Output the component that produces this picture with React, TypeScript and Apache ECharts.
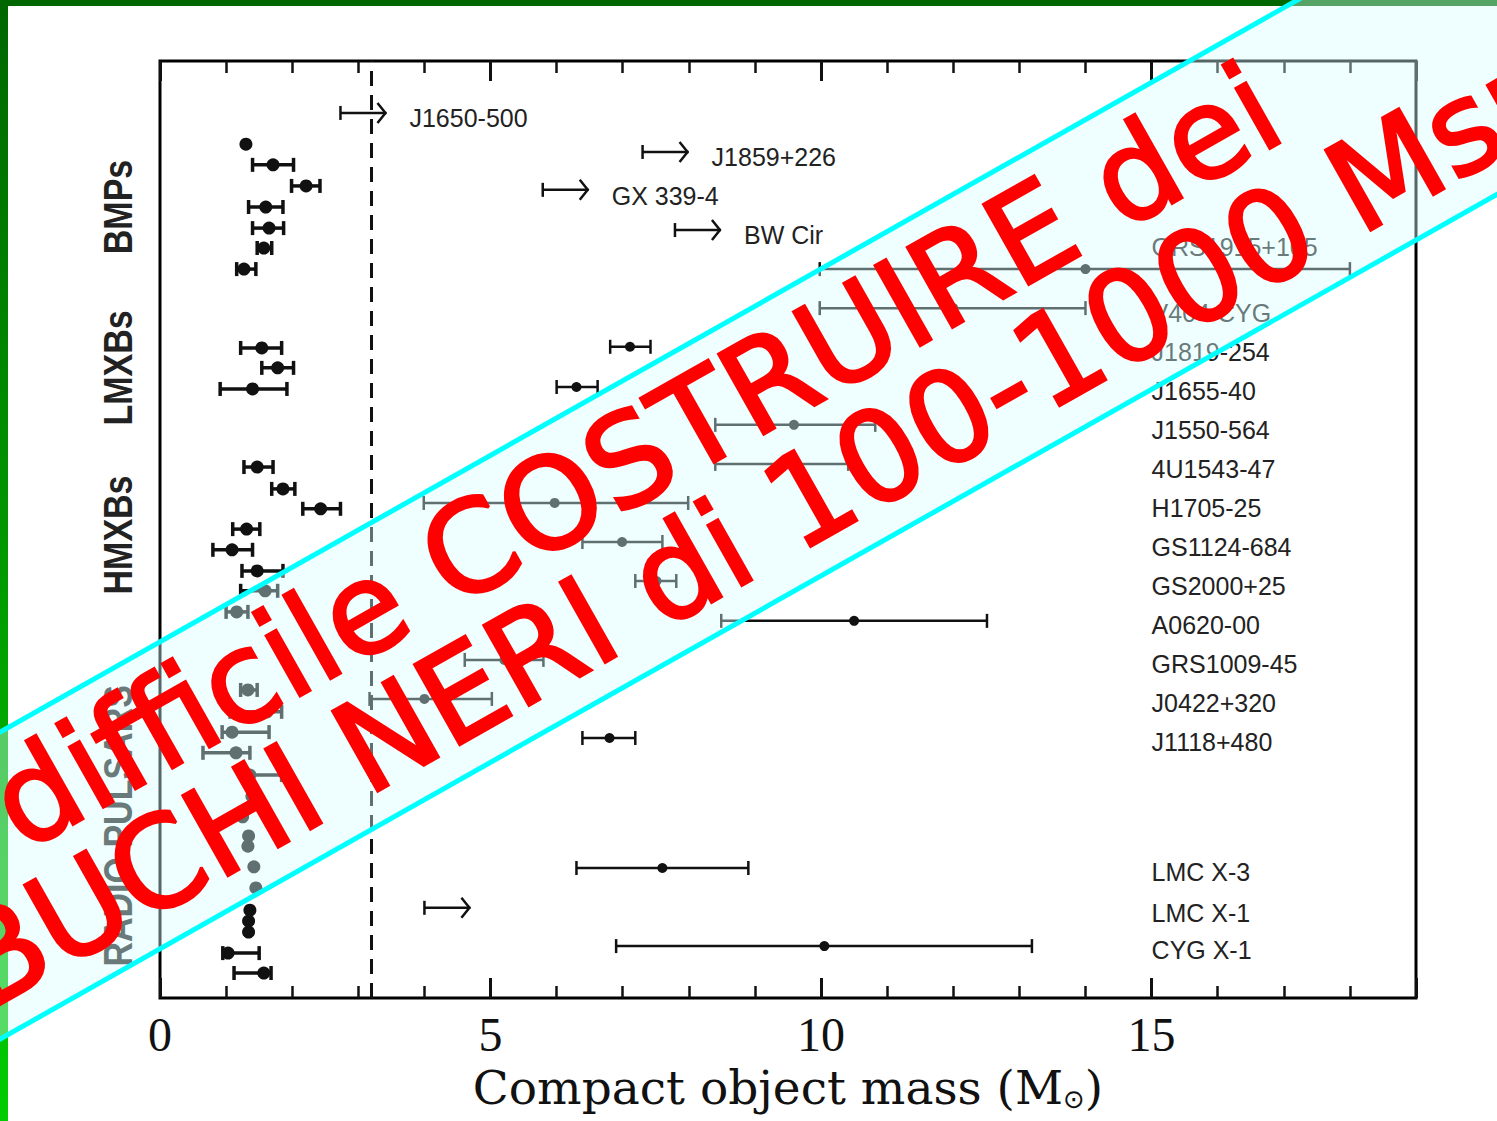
import React, { useEffect, useRef } from "react";
import * as echarts from "echarts";

// [row (vertical slot), mass, low, high]
type Obs = [number, number, number | null, number | null];

const bmps: Obs[] = [
  [21.87, 1.3, null, null],
  [21.34, 1.71, 1.4, 2.02],
  [20.8, 2.21, 1.99, 2.42],
  [20.26, 1.6, 1.34, 1.86],
  [19.72, 1.65, 1.4, 1.87],
  [19.21, 1.57, 1.47, 1.69],
  [18.67, 1.27, 1.16, 1.45],
];
const lmxbs: Obs[] = [
  [16.65, 1.54, 1.22, 1.84],
  [16.14, 1.78, 1.54, 2.02],
  [15.6, 1.4, 0.91, 1.92],
];
const hmxbs: Obs[] = [
  [13.6, 1.47, 1.27, 1.71],
  [13.04, 1.86, 1.69, 2.04],
  [12.53, 2.43, 2.16, 2.73],
  [12.01, 1.31, 1.1, 1.51],
  [11.48, 1.09, 0.8, 1.4],
  [10.94, 1.47, 1.24, 1.86],
  [10.43, 1.59, 1.22, 1.78],
  [9.89, 1.16, 1.0, 1.33],
];
const radioPulsars: Obs[] = [
  [7.89, 1.33, 1.22, 1.47],
  [7.33, 1.62, 1.06, 1.84],
  [6.81, 1.09, 0.94, 1.65],
  [6.28, 1.15, 0.65, 1.36],
  [5.71, 1.36, 1.28, 1.84],
  [5.17, 1.39, null, null],
  [4.64, 1.25, null, null],
  [4.15, 1.34, null, null],
  [3.89, 1.33, null, null],
  [3.36, 1.42, null, null],
  [2.82, 1.45, null, null],
  [2.25, 1.36, null, null],
  [1.97, 1.34, null, null],
  [1.69, 1.34, null, null],
  [1.15, 1.03, 0.95, 1.5],
  [0.64, 1.57, 1.12, 1.68],
];

const groupNames = ["BMPs", "LMXBs", "HMXBs", "RADIO PULSARS"];
const groupCenters = [20.26, 16.14, 11.86, 4.41];

const bhNames = [
  "J1650-500", "J1859+226", "GX 339-4", "BW Cir", "GRS1915+105", "V404 CYG",
  "J1819-254", "J1655-40", "J1550-564", "4U1543-47", "H1705-25", "GS1124-684",
  "GS2000+25", "A0620-00", "GRS1009-45", "J0422+320", "J1118+480",
  "LMC X-3", "LMC X-1", "CYG X-1",
];
const bhRow = [22.67, 21.67, 20.7, 19.67, 18.67, 17.67, 16.68, 15.65, 14.68, 13.68, 12.68, 11.68, 10.68, 9.66, 8.66, 7.66, 6.66, 3.33, 2.31, 1.33];
const bhMass: (number | null)[] = [null, null, null, null, 14.0, 12.0, 7.11, 6.3, 9.59, 9.4, 5.97, 6.99, 7.51, 10.5, 5.21, 4.0, 6.8, 7.6, null, 10.05];
const bhLow = [2.73, 7.3, 5.79, 7.79, 9.98, 9.98, 6.81, 6.0, 8.4, 8.4, 3.99, 6.39, 7.19, 8.49, 4.61, 3.17, 6.39, 6.3, 4.0, 6.9];
const bhHigh: (number | null)[] = [null, null, null, null, 18.0, 14.0, 7.42, 6.62, 10.82, 10.41, 7.99, 7.6, 7.81, 12.51, 5.8, 5.02, 7.19, 8.9, null, 13.19];
const bhLabelRow = [22.54, 21.54, 20.54, 19.54, 19.23, 17.55, 16.55, 15.55, 14.55, 13.55, 12.55, 11.55, 10.55, 9.55, 8.56, 7.56, 6.56, 3.23, 2.18, 1.23];
const bhLabelBeside = [true, true, true, true, false, false, false, false, false, false, false, false, false, false, false, false, false, false, false, false];
const labelColumn = 15;
const nsLimit = 3.2;

const xMin = 0;
const xMax = 19;
const yMin = 0;
const yMax = 24;

const INK = "#111";

function capLines(p: number[], h: number, w: number) {
  return {
    type: "line",
    shape: { x1: p[0], y1: p[1] - h, x2: p[0], y2: p[1] + h },
    style: { stroke: INK, lineWidth: w },
  };
}

function nsRenderer(rows: Obs[]) {
  return (params: any, api: any) => {
    const [row, mass, lo, hi] = rows[params.dataIndex];
    const c = api.coord([mass, row]);
    const children: any[] = [];
    if (lo != null && hi != null) {
      const a = api.coord([lo, row]);
      const b = api.coord([hi, row]);
      children.push({
        type: "line",
        shape: { x1: a[0], y1: a[1], x2: b[0], y2: b[1] },
        style: { stroke: INK, lineWidth: 3.5 },
      });
      children.push(capLines(a, 7, 3.5));
      children.push(capLines(b, 7, 3.5));
    }
    children.push({ type: "circle", shape: { cx: c[0], cy: c[1], r: 6.5 }, style: { fill: INK } });
    return { type: "group", children };
  };
}

function bhRenderer(params: any, api: any) {
  const i = params.dataIndex;
  const row = bhRow[i];
  const children: any[] = [];
  const a = api.coord([bhLow[i], row]);
  const hi = bhHigh[i];
  const m = bhMass[i];
  let labelX: number;
  if (hi == null) {
    const e = [a[0] + 46, a[1]];
    children.push({ type: "line", shape: { x1: a[0], y1: a[1], x2: e[0], y2: e[1] }, style: { stroke: INK, lineWidth: 2.5 } });
    children.push(capLines(a, 7, 2.5));
    children.push({
      type: "polyline",
      shape: { points: [[e[0] - 9, e[1] - 10], [e[0] - 1, e[1]], [e[0] - 9, e[1] + 10]] },
      style: { stroke: INK, lineWidth: 2.5, fill: "none" },
    });
    labelX = a[0] + 69;
  } else {
    const b = api.coord([hi, row]);
    children.push({ type: "line", shape: { x1: a[0], y1: a[1], x2: b[0], y2: b[1] }, style: { stroke: INK, lineWidth: 2.5 } });
    children.push(capLines(a, 7, 2.5));
    children.push(capLines(b, 7, 2.5));
    if (m != null) {
      const c = api.coord([m, row]);
      children.push({ type: "circle", shape: { cx: c[0], cy: c[1], r: 5 }, style: { fill: INK } });
    }
    labelX = api.coord([labelColumn, row])[0];
  }
  if (!bhLabelBeside[i]) labelX = api.coord([labelColumn, row])[0];
  const ly = api.coord([labelColumn, bhLabelRow[i]])[1];
  children.push({
    type: "text",
    x: labelX,
    y: ly,
    style: {
      text: bhNames[i],
      fill: "#222",
      font: 'normal 25px "Liberation Sans", Arial, sans-serif',
      textAlign: "left",
      textVerticalAlign: "middle",
    },
  });
  return { type: "group", children };
}

function nsSeries(rows: Obs[]) {
  return {
    type: "custom",
    renderItem: nsRenderer(rows),
    data: rows.map((r) => [r[1], r[0]]),
    encode: { x: 0, y: 1 },
    silent: true,
    z: 5,
  };
}

export default function App() {
  const ref = useRef<HTMLDivElement>(null);
  useEffect(() => {
    if (!ref.current) return;
    const chart = echarts.init(ref.current, undefined, { renderer: "svg" });
    const tickBase = {
      type: "value",
      min: xMin,
      max: xMax,
      axisLine: { show: false },
      splitLine: { show: false },
    };
    chart.setOption({
      animation: false,
      backgroundColor: "#ffffff",
      grid: {
        left: 160,
        top: 61,
        width: 1256,
        height: 937,
        show: true,
        borderColor: "#000",
        borderWidth: 3,
        backgroundColor: "transparent",
      },
      xAxis: [
        {
          ...tickBase,
          position: "bottom",
          interval: 1,
          axisTick: { inside: true, length: 12, lineStyle: { width: 2.5, color: INK } },
          axisLabel: {
            formatter: (v: number) => (v % 5 === 0 ? String(v) : ""),
            fontFamily: '"Liberation Serif", "Times New Roman", serif',
            fontSize: 48,
            color: INK,
            margin: 12,
          },
          name: "Compact object mass (M{sub|⊙})",
          nameLocation: "middle",
          nameGap: 64,
          nameTextStyle: {
            fontFamily: '"DejaVu Serif", serif',
            fontSize: 47,
            color: INK,
            rich: {
              sub: { fontFamily: '"DejaVu Sans", sans-serif', fontSize: 26, color: INK, padding: [24, 0, 0, 0] },
            },
          },
        },
        {
          ...tickBase,
          position: "bottom",
          interval: 5,
          axisTick: { inside: true, length: 20, lineStyle: { width: 3, color: INK } },
          axisLabel: { show: false },
        },
        {
          ...tickBase,
          position: "top",
          interval: 1,
          axisTick: { inside: true, length: 12, lineStyle: { width: 2.5, color: INK } },
          axisLabel: { show: false },
        },
        {
          ...tickBase,
          position: "top",
          interval: 5,
          axisTick: { inside: true, length: 20, lineStyle: { width: 3, color: INK } },
          axisLabel: { show: false },
        },
      ],
      yAxis: { type: "value", min: yMin, max: yMax, show: false },
      series: [
        nsSeries(bmps),
        nsSeries(lmxbs),
        nsSeries(hmxbs),
        nsSeries(radioPulsars),
        {
          type: "custom",
          renderItem: bhRenderer,
          data: bhNames.map((_, i) => [bhLow[i], bhRow[i]]),
          encode: { x: 0, y: 1 },
          silent: true,
          z: 5,
          markLine: {
            silent: true,
            symbol: "none",
            label: { show: false },
            lineStyle: { type: [15, 9], width: 3, color: INK },
            data: [{ xAxis: nsLimit }],
          },
        },
      ],
    });

    const groupLabels = groupNames.map((name, i) => {
      const p = chart.convertToPixel({ xAxisIndex: 0, yAxisIndex: 0 }, [0, groupCenters[i]]) as number[];
      return {
        type: "text",
        x: 118,
        y: p[1],
        rotation: Math.PI / 2,
        scaleX: 0.85,
        z: 20,
        style: {
          text: name,
          fill: "#222",
          font: 'bold 40px "Liberation Sans", Arial, sans-serif',
          textAlign: "center",
          textVerticalAlign: "middle",
        },
      };
    });

    const ang = Math.atan(0.5645);
    const F = 126;
    const lift = 0.346 * F;
    const bannerFont = `normal ${F}px "Comic Sans MS", "DejaVu Sans", sans-serif`;

    chart.setOption({
      graphic: [
        ...groupLabels,
        { type: "rect", z: 50, shape: { x: 0, y: 0, width: 1497, height: 6 }, style: { fill: "#006600" } },
        {
          type: "rect",
          z: 50,
          shape: { x: 0, y: 0, width: 8, height: 1121 },
          style: {
            fill: new echarts.graphic.LinearGradient(0, 0, 0, 1, [
              { offset: 0, color: "#006600" },
              { offset: 1, color: "#00cc00" },
            ]),
          },
        },
        {
          type: "polygon",
          z: 100,
          shape: { points: [[-60, 766], [1620, -182], [1620, 125], [-60, 1073]] },
          style: { fill: "rgba(215,255,255,0.4)", stroke: "#00ffff", lineWidth: 5 },
        },
        {
          type: "group",
          x: 1290,
          y: 137,
          rotation: ang,
          z: 101,
          children: [
            {
              type: "text",
              x: 0,
              y: -lift,
              z: 101,
              style: {
                text: "difficile COSTRUIRE dei",
                font: bannerFont,
                fill: "#ff0000",
                stroke: "#ff0000",
                lineWidth: 3,
                textAlign: "right",
                textVerticalAlign: "middle",
              },
            },
          ],
        },
        {
          type: "group",
          x: -15,
          y: 1013,
          rotation: ang,
          z: 101,
          children: [
            {
              type: "text",
              x: 0,
              y: -lift,
              z: 101,
              style: {
                text: "BUCHI NERI di 100-1000 Msun",
                font: bannerFont,
                fill: "#ff0000",
                stroke: "#ff0000",
                lineWidth: 3,
                textAlign: "left",
                textVerticalAlign: "middle",
              },
            },
          ],
        },
      ],
    });

    return () => chart.dispose();
  }, []);
  return (
    <div
      ref={ref}
      style={{ position: "fixed", left: 0, top: 0, width: 1497, height: 1121, background: "#fff" }}
    />
  );
}
